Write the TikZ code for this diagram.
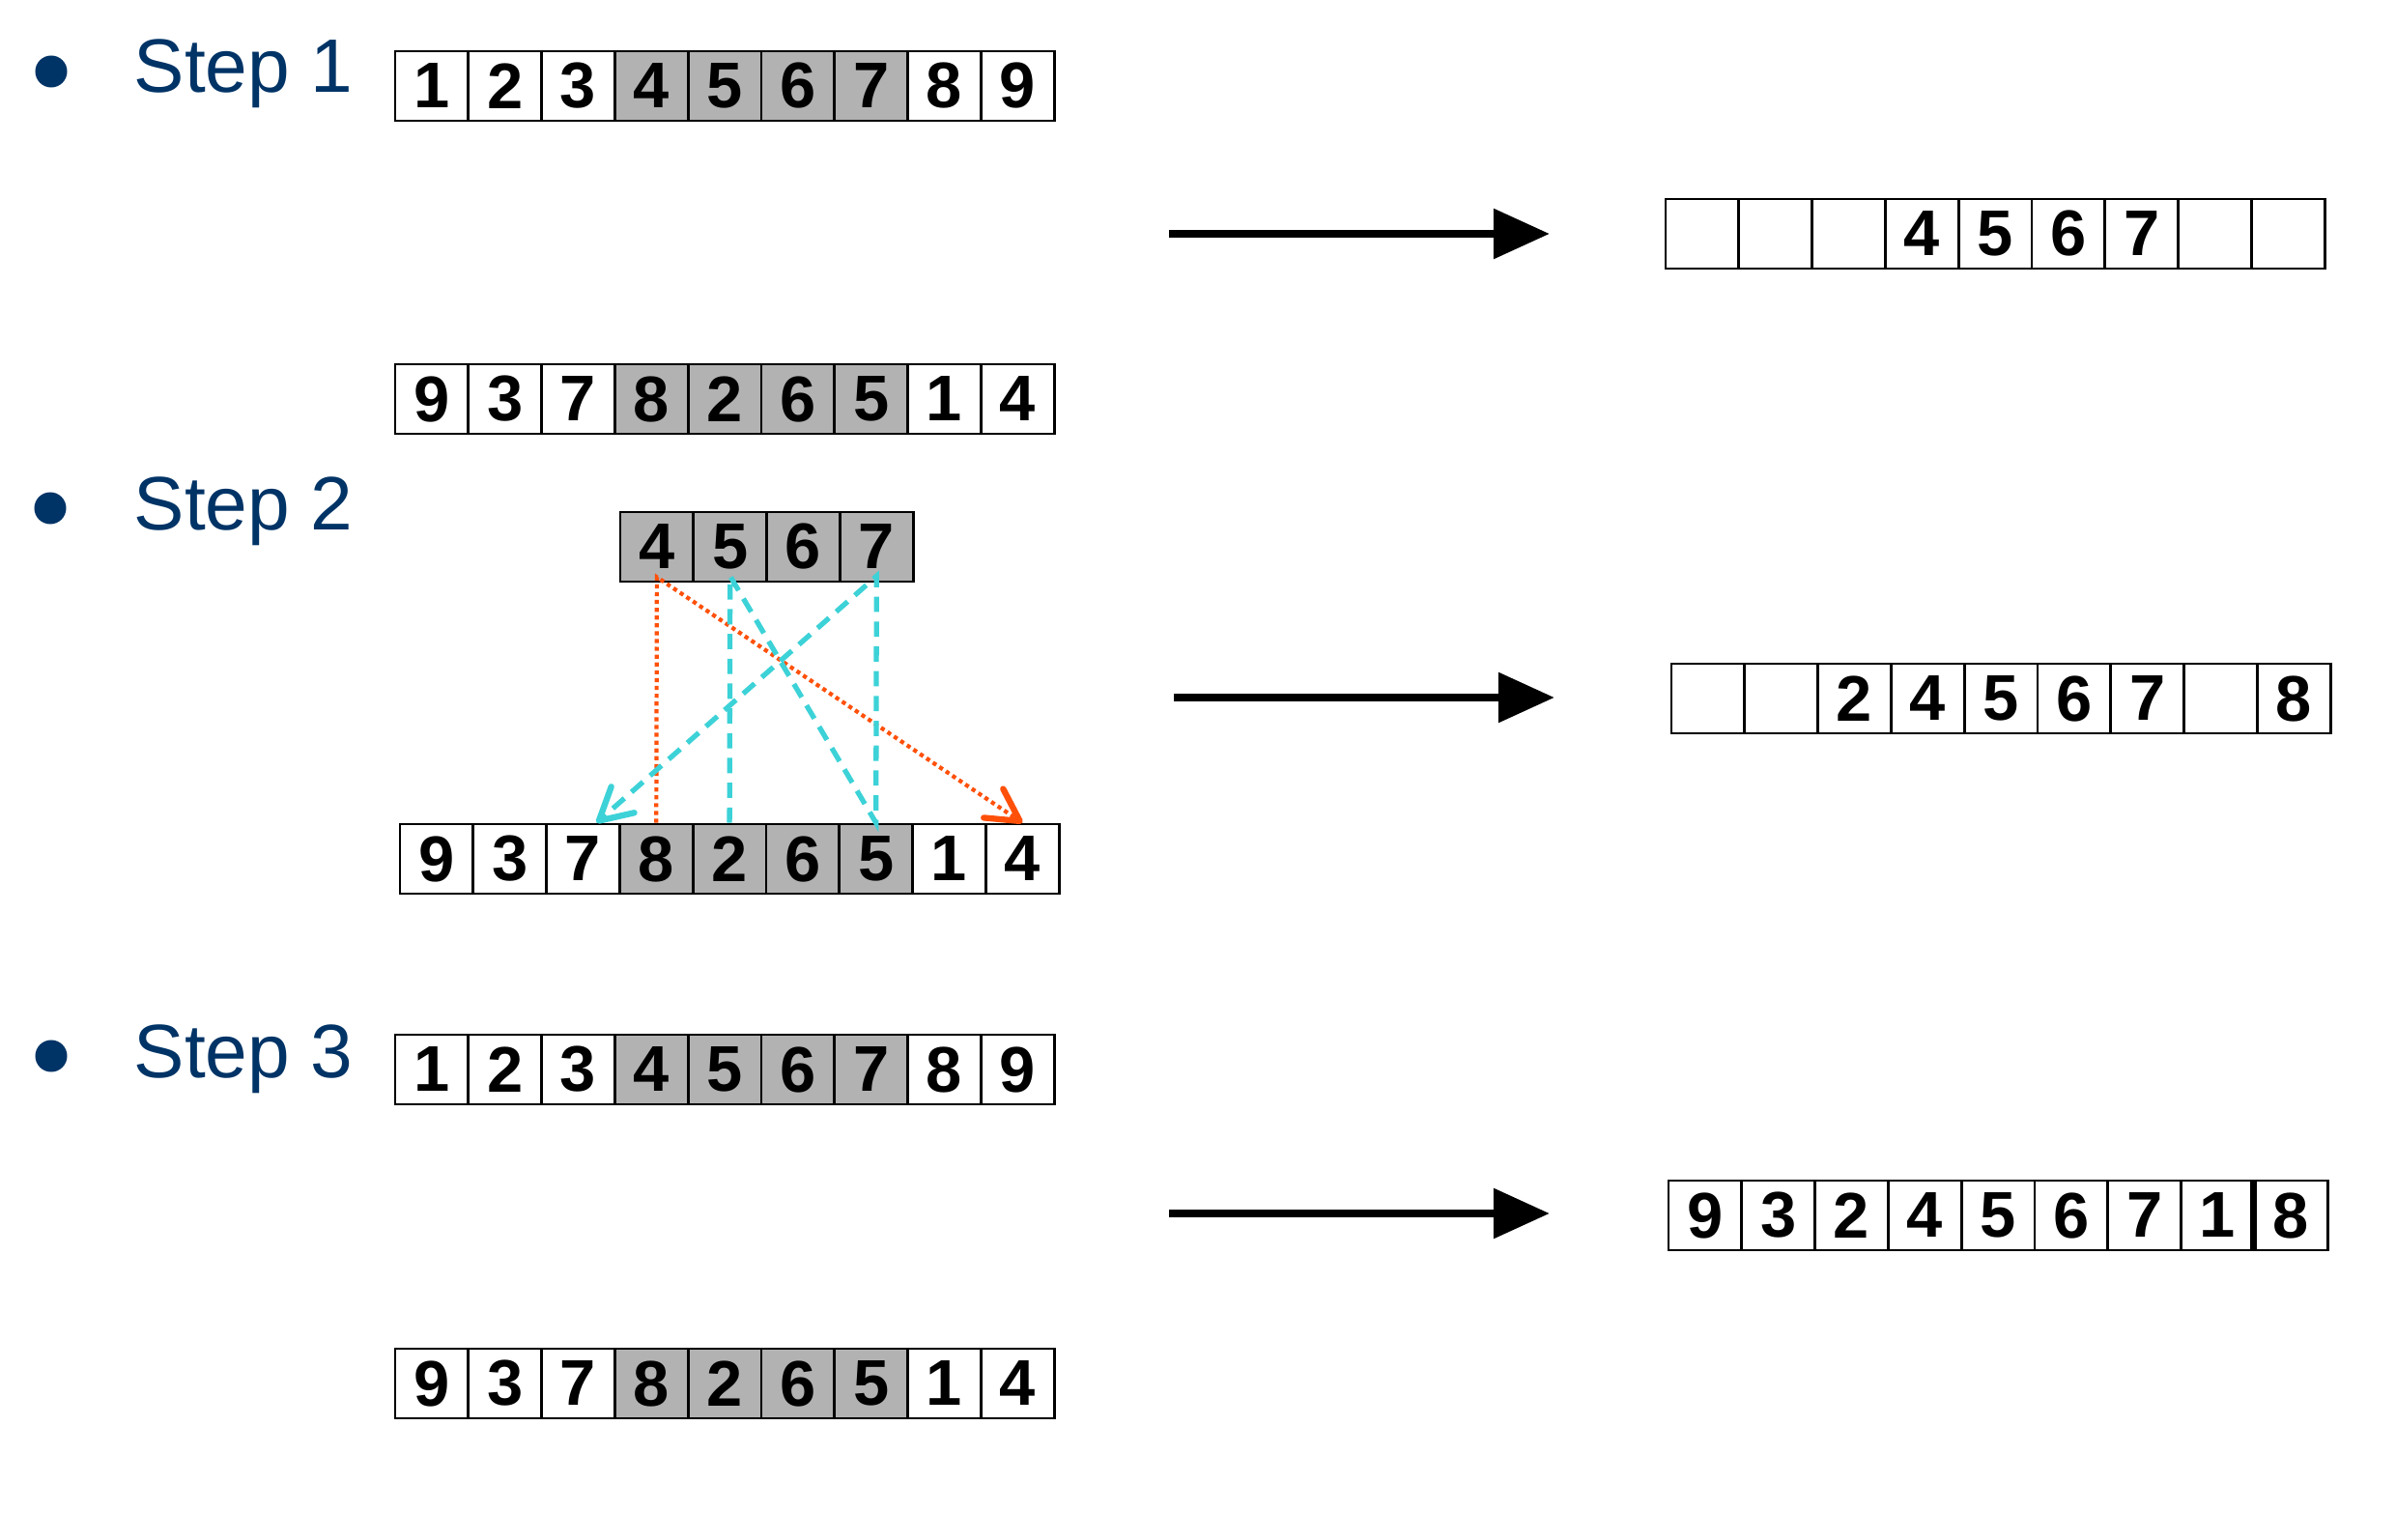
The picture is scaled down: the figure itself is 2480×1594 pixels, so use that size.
\documentclass[tikz,border=0pt]{standalone}
\usepackage{fontspec}
\setmainfont{Liberation Sans}
\usetikzlibrary{arrows.meta}
\definecolor{navy}{RGB}{0,51,102}
\definecolor{G}{RGB}{178,178,178}
\definecolor{R}{RGB}{255,80,10}
\definecolor{C}{RGB}{60,210,215}
\newcommand{\cellrow}[4]{
    \foreach \v/\f [count=\i] in {#4}{
    \node[cell, fill=\f] (#1-\i) at (#2+75.8*\i-37.9, #3) {\v};
    }
}
\newcommand{\drawfat}{\draw[line width=2.55pt, -{Triangle[length=0.58cm,width=0.5cm]}]}
\begin{document}
\begin{tikzpicture}[x=0.01cm, y=-0.01cm,
    cell/.style={draw, line width=0.75pt, minimum width=0.758cm, minimum height=0.72cm, inner sep=0pt, font=\bfseries\fontsize{19}{19}\selectfont},
    bulletdot/.style={circle, fill=navy, minimum size=0.33cm, inner sep=0pt},
    steplabel/.style={anchor=base west, inner sep=0pt, text=navy, font=\fontsize{22.3}{27}\selectfont},
    pathred/.style={R, line width=1.2pt, dash pattern=on 1.2pt off 1.1pt, -{Straight Barb[length=0.33cm,width=0.36cm,line width=1.8pt,round]}},
    pathcyan/.style={C, line width=1.5pt, dash pattern=on 4.5pt off 2.8pt, -{Straight Barb[length=0.33cm,width=0.36cm,line width=1.8pt,round]}}]
\useasboundingbox (0,0) rectangle (2480,1594);
\node[bulletdot] (dot1) at (53,74) {};
\node[steplabel] (step1) at (138,96) {Step 1};
\node[bulletdot] (dot2) at (52,526) {};
\node[steplabel] (step2) at (138,548) {Step 2};
\node[bulletdot] (dot3) at (53,1093) {};
\node[steplabel] (step3) at (138,1115) {Step 3};
% step 1
\cellrow{top1}{409}{89}{1/white,2/white,3/white,4/G,5/G,6/G,7/G,8/white,9/white}
\cellrow{bot1}{409}{413}{9/white,3/white,7/white,8/G,2/G,6/G,5/G,1/white,4/white}
\cellrow{res1}{1724}{242}{/white,/white,/white,4/white,5/white,6/white,7/white,/white,/white}
\coordinate (go1a) at (1210,242); \coordinate (go1b) at (1604,242);
\drawfat (go1a) -- (go1b);
% step 2
\cellrow{sub2}{642}{566}{4/G,5/G,6/G,7/G}
\cellrow{bot2}{414}{889}{9/white,3/white,7/white,8/G,2/G,6/G,5/G,1/white,4/white}
\cellrow{res2}{1730}{723}{/white,/white,2/white,4/white,5/white,6/white,7/white,/white,8/white}
\draw[pathred] (bot2-4.north) -- ([yshift=0.06cm]sub2-1.south) -- (bot2-9.north);
\draw[pathcyan] (bot2-5.north) -- ([yshift=0.07cm]sub2-2.south) -- (bot2-7.north) -- ([yshift=0.07cm]sub2-4.south) -- ([xshift=0.14cm]bot2-3.north);
\coordinate (go2a) at (1215,722); \coordinate (go2b) at (1609,722);
\drawfat (go2a) -- (go2b);
% step 3
\cellrow{top3}{409}{1107}{1/white,2/white,3/white,4/G,5/G,6/G,7/G,8/white,9/white}
\cellrow{bot3}{409}{1432}{9/white,3/white,7/white,8/G,2/G,6/G,5/G,1/white,4/white}
\cellrow{res3}{1727}{1258}{9/white,3/white,2/white,4/white,5/white,6/white,7/white,1/white,8/white}
\draw[line width=2pt] (res3-9.north west) -- (res3-9.south west);
\coordinate (go3a) at (1210,1256); \coordinate (go3b) at (1604,1256);
\drawfat (go3a) -- (go3b);
\end{tikzpicture}
\end{document}
